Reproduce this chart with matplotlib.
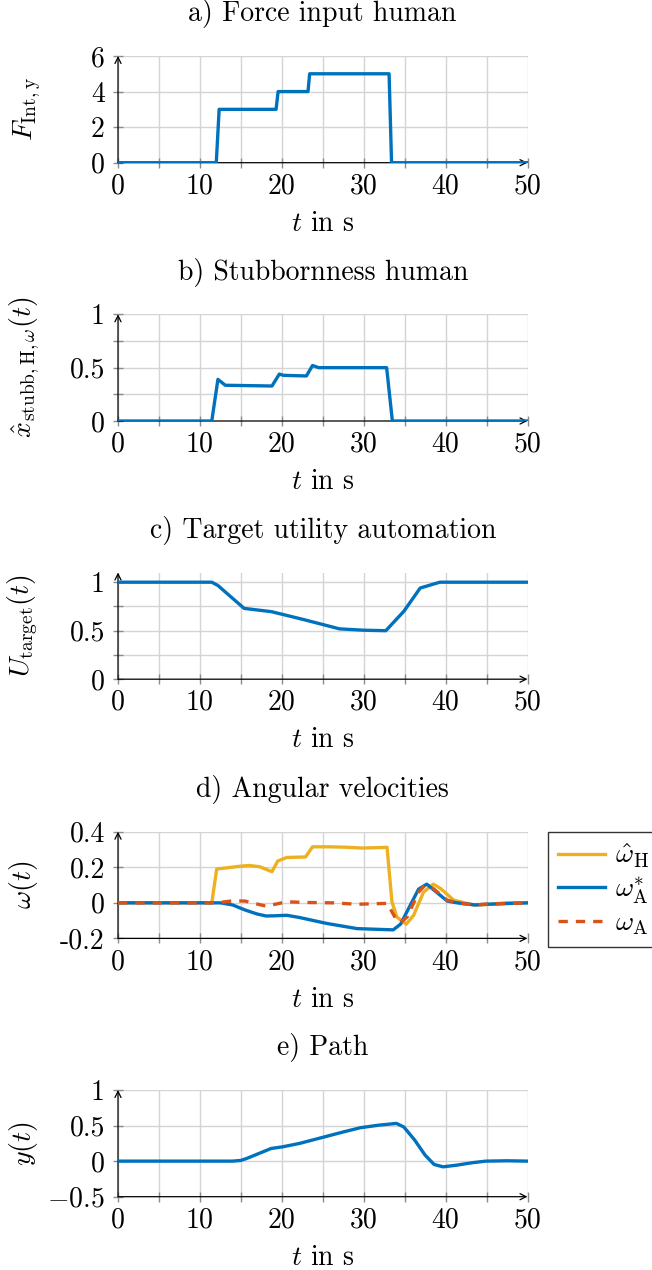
import matplotlib
matplotlib.use('Agg')
import matplotlib.pyplot as plt

plt.rcParams['font.family'] = 'serif'
plt.rcParams['font.serif'] = ['cmr10']
plt.rcParams['mathtext.fontset'] = 'cm'
plt.rcParams['axes.unicode_minus'] = False

# ---------------- data ----------------
t_force = [0, 12.0, 12.35, 19.3, 19.55, 23.2, 23.4, 33.1, 33.4, 50]
f_force = [0, 0, 3, 3, 4, 4, 5, 5, 0, 0]

t_stubb = [0, 11.45, 12.2, 13.1, 18.8, 19.7, 20.2, 23.0, 23.75, 24.5, 28.8, 32.8, 33.5, 50]
x_stubb = [0, 0, 0.39, 0.335, 0.328, 0.44, 0.428, 0.422, 0.52, 0.5, 0.5, 0.5, 0, 0]

t_util = [0, 11.45, 12.2, 15.4, 18.75, 22.7, 27.05, 30.0, 32.7, 34.9, 36.9, 39.3, 50]
u_util = [1, 1, 0.966, 0.73, 0.696, 0.614, 0.519, 0.505, 0.5, 0.70, 0.94, 1.0, 1.0]

t_wH = [0, 11.45, 12.05, 14.75, 16.0, 17.3, 18.8, 19.5, 20.6, 22.9, 23.75, 25.7, 27.7,
        29.8, 32.85, 33.45, 34.05, 35.2, 36.1, 37.3, 38.5, 39.4, 41.0, 43.4, 45, 47.5, 50]
w_H = [0, 0, 0.19, 0.205, 0.21, 0.203, 0.175, 0.235, 0.255, 0.258, 0.315, 0.315, 0.313,
       0.308, 0.312, 0.005, -0.08, -0.12, -0.07, 0.06, 0.105, 0.08, 0.015, -0.012, -0.01, 0, 0]

t_wAs = [0, 12.5, 14.0, 15.5, 17.0, 18.1, 19.1, 20.6, 22.1, 25.5, 29.2, 33.6, 34.5,
         36.7, 37.7, 40.2, 41.4, 43.6, 45, 50]
w_As = [0, 0, -0.012, -0.04, -0.063, -0.074, -0.073, -0.07, -0.082, -0.116, -0.145,
        -0.152, -0.12, 0.077, 0.105, 0.01, 0, -0.012, -0.008, 0]

t_wA = [0, 12, 14, 15.5, 18.1, 19.7, 20.6, 22.9, 26.2, 29.2, 32.85, 33.2, 34.05, 34.5,
        35.3, 36.7, 37.5, 38.5, 40.2, 41.8, 43.6, 45, 50]
w_A = [0, 0, 0.011, 0.01, -0.019, -0.003, 0.006, 0.002, 0, -0.008, -0.003, -0.03, -0.1,
       -0.11, -0.08, 0.06, 0.1, 0.08, 0.015, -0.003, -0.012, -0.007, 0]

t_path = [0, 14.0, 15.0, 15.7, 17.0, 18.7, 20.05, 22.2, 24.85, 27.5, 29.6, 31.8, 34.0,
          34.9, 36.2, 37.5, 38.6, 39.7, 41.4, 43.2, 44.9, 47.5, 50]
y_path = [0, 0, 0.01, 0.037, 0.098, 0.178, 0.2, 0.25, 0.33, 0.41, 0.47, 0.505, 0.53,
          0.48, 0.3, 0.084, -0.047, -0.08, -0.056, -0.023, 0.0, 0.005, 0]

x_major = [0, 10, 20, 30, 40, 50]
x_minor = [5, 15, 25, 35, 45]

titles = ['a) Force input human', 'b) Stubbornness human', 'c) Target utility automation',
          'd) Angular velocities', 'e) Path']
ylabels = [r'$F_{\mathrm{Int,y}}$', r'$\hat{x}_{\mathrm{stubb,H},\omega}(t)$',
           r'$U_{\mathrm{target}}(t)$', r'$\omega(t)$', r'$y(t)$']
legend_labels = [r'$\hat{\omega}_{\mathrm{H}}$', r'$\omega^{*}_{\mathrm{A}}$', r'$\omega_{\mathrm{A}}$']

BLUE = '#0072BD'
YELLOW = '#EDB120'
RED = '#D95319'

W, H = 652, 1270
fig = plt.figure(figsize=(W / 100, H / 100), dpi=100)

ax_left = 118 / W
ax_w = 409.5 / W
ax_hpx = 106.7
tops = [56, 314.3, 572.5, 831.7, 1090]
FS = 20


def make_ax(i, ylim, yticks, yticklabels, yminor=None):
    top = tops[i]
    ax = fig.add_axes([ax_left, 1 - (top + ax_hpx) / H, ax_w, ax_hpx / H])
    ax.set_xlim(0, 50)
    ax.set_ylim(*ylim)
    for s in ax.spines.values():
        s.set_visible(False)
    ax.set_xticks(x_major)
    ax.set_xticklabels([str(v) for v in x_major])
    ax.set_xticks(x_minor, minor=True)
    ax.set_yticks(yticks)
    ax.set_yticklabels(yticklabels)
    if yminor:
        ax.set_yticks(yminor, minor=True)
    ax.set_axisbelow(True)
    ax.grid(which='both', color='#d4d4d4', lw=1.0)
    ax.tick_params(which='both', direction='inout', length=7, width=1,
                   color='#8c8c8c', labelsize=FS)
    ax.tick_params(axis='x', which='both', pad=4)
    ax.tick_params(axis='y', which='both', pad=6)
    arrow = dict(arrowstyle='->', color='black', lw=0.9, shrinkA=0, shrinkB=0,
                 mutation_scale=11)
    ax.annotate('', xy=(1, 0), xytext=(0, 0), xycoords='axes fraction',
                arrowprops=arrow, zorder=1.5)
    ax.annotate('', xy=(0, 1), xytext=(0, 0), xycoords='axes fraction',
                arrowprops=arrow, zorder=1.5)
    ax.set_title(titles[i], fontsize=FS, pad=25)
    ax.set_xlabel(r'$t$ in s', fontsize=FS, labelpad=8)
    ax.set_ylabel(ylabels[i], fontsize=FS)
    return ax


LW = 2.4

ax = make_ax(0, (0, 6), [0, 2, 4, 6], ['0', '2', '4', '6'])
ax.plot(t_force, f_force, color=BLUE, lw=LW)
ax.yaxis.set_label_coords((43 - 118) / 409.5, 0.5)

ax = make_ax(1, (0, 1), [0, 0.5, 1], ['0', '0.5', '1'], [0.25, 0.75])
ax.plot(t_stubb, x_stubb, color=BLUE, lw=LW)
ax.yaxis.set_label_coords((42 - 118) / 409.5, 0.5)

ax = make_ax(2, (0, 1.1), [0, 0.5, 1], ['0', '0.5', '1'], [0.25, 0.75])
ax.plot(t_util, u_util, color=BLUE, lw=LW)
ax.yaxis.set_label_coords((40 - 118) / 409.5, 0.5)

ax = make_ax(3, (-0.2, 0.4), [-0.2, 0, 0.2, 0.4], ['-0.2', '0', '0.2', '0.4'])
l1, = ax.plot(t_wH, w_H, color=YELLOW, lw=LW)
l2, = ax.plot(t_wAs, w_As, color=BLUE, lw=LW)
l3, = ax.plot(t_wA, w_A, color=RED, lw=LW, linestyle=(0, (2.8, 2.4)))
ax.yaxis.set_label_coords((40 - 118) / 409.5, 0.5)
leg = fig.legend([l1, l2, l3], legend_labels, loc='upper left',
                 bbox_to_anchor=(548 / W, 1 - 832 / H), frameon=True, fancybox=False,
                 edgecolor='#333333', framealpha=1, fontsize=FS, handlelength=1.7,
                 borderpad=0.35, labelspacing=0.15, handletextpad=0.35,
                 borderaxespad=0)
leg.get_frame().set_linewidth(1.0)

ax = make_ax(4, (-0.5, 1), [-0.5, 0, 0.5, 1], [r'$-0.5$', '0', '0.5', '1'])
ax.plot(t_path, y_path, color=BLUE, lw=LW)
ax.yaxis.set_label_coords((40 - 118) / 409.5, 0.5)

fig.savefig('out.png', dpi=100)
